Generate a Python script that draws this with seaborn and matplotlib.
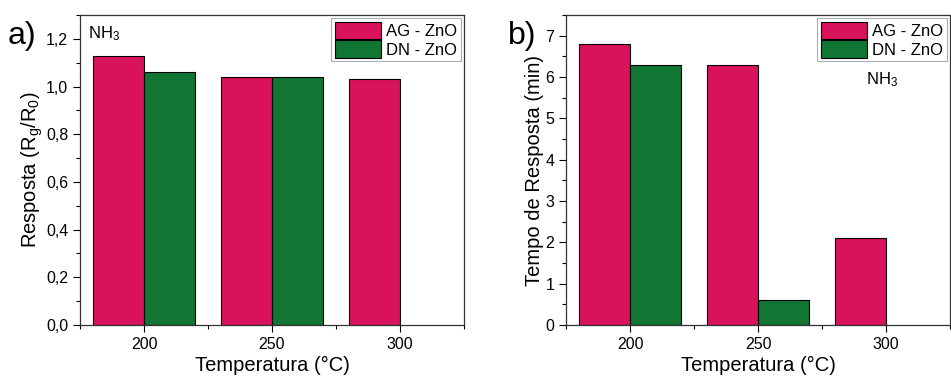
import matplotlib
matplotlib.use("Agg")
import matplotlib.pyplot as plt
from matplotlib.ticker import MultipleLocator, FuncFormatter
import numpy as np
import pandas as pd
import seaborn as sns

# Data
temperatures = [200, 250, 300]
samples = ["AG - ZnO", "DN - ZnO"]
resposta_ag = [1.13, 1.04, 1.03]
resposta_dn = [1.06, 1.04, np.nan]
tempo_ag = [6.8, 6.3, 2.1]
tempo_dn = [6.3, 0.6, np.nan]

palette = {"AG - ZnO": "#D8135B", "DN - ZnO": "#117533"}


def long_frame(ag, dn):
    rows = []
    for t, a, d in zip(temperatures, ag, dn):
        rows.append({"Temperatura": t, "Amostra": samples[0], "valor": a})
        rows.append({"Temperatura": t, "Amostra": samples[1], "valor": d})
    return pd.DataFrame(rows).dropna()


sns.set_style("ticks")
plt.rcParams["font.family"] = ["Liberation Sans", "DejaVu Sans"]
plt.rcParams["mathtext.fontset"] = "custom"
plt.rcParams["mathtext.rm"] = "Liberation Sans"
plt.rcParams["mathtext.it"] = "Liberation Sans"
plt.rcParams["text.color"] = "black"
plt.rcParams["axes.labelcolor"] = "black"
plt.rcParams["xtick.color"] = "black"
plt.rcParams["ytick.color"] = "black"

fig = plt.figure(figsize=(9.51, 3.78), dpi=100)
ax_a = fig.add_axes([80 / 951, 53 / 378, 384 / 951, 310 / 378])
ax_b = fig.add_axes([566 / 951, 53 / 378, 384 / 951, 310 / 378])

comma = FuncFormatter(lambda v, p: f"{v:.1f}".replace(".", ","))


def draw(ax, ag, dn, ylim, major, minor, ylabel, nh3_xy, legend_loc):
    df = long_frame(ag, dn)
    sns.barplot(data=df, x="Temperatura", y="valor", hue="Amostra",
                hue_order=samples, palette=palette, native_scale=True,
                width=0.8, edgecolor="black", linewidth=0.8, saturation=1,
                errorbar=None, ax=ax)
    ax.set_xlim(175, 325)
    ax.set_ylim(*ylim)
    ax.xaxis.set_major_locator(MultipleLocator(50))
    ax.xaxis.set_minor_locator(MultipleLocator(25))
    ax.yaxis.set_major_locator(MultipleLocator(major))
    ax.yaxis.set_minor_locator(MultipleLocator(minor))
    ax.tick_params(which="major", direction="out", length=5, width=0.8,
                   labelsize=11.5, top=False, right=False)
    ax.tick_params(which="minor", direction="out", length=3, width=0.8,
                   top=False, right=False)
    for s in ax.spines.values():
        s.set_linewidth(0.9)
        s.set_color("#333333")
    ax.set_xlabel("Temperatura (°C)", fontsize=14.5, labelpad=3)
    ax.set_ylabel(ylabel, fontsize=14.5, labelpad=1)
    ax.text(*nh3_xy, r"NH$_3$", transform=ax.transAxes, fontsize=12,
            ha="left", va="center")
    leg = ax.legend(loc=legend_loc, fontsize=12, frameon=True, fancybox=False,
                    edgecolor="#999999", handlelength=2.8, handleheight=1.2,
                    borderaxespad=0.2, borderpad=0.2, labelspacing=0.1,
                    handletextpad=0.3)
    leg.get_frame().set_linewidth(0.8)


draw(ax_a, resposta_ag, resposta_dn, (0, 1.3), 0.2, 0.1,
     r"Resposta (R$_g$/R$_0$)", (0.02, 0.94), "upper right")
ax_a.yaxis.set_major_formatter(comma)

draw(ax_b, tempo_ag, tempo_dn, (0, 7.5), 1, 0.5,
     "Tempo de Resposta (min)", (0.78, 0.79), "upper right")

fig.text(8 / 951, 0.905, "a)", fontsize=23, ha="left", va="center")
fig.text(508 / 951, 0.905, "b)", fontsize=23, ha="left", va="center")

fig.savefig("out.png", dpi=100)
